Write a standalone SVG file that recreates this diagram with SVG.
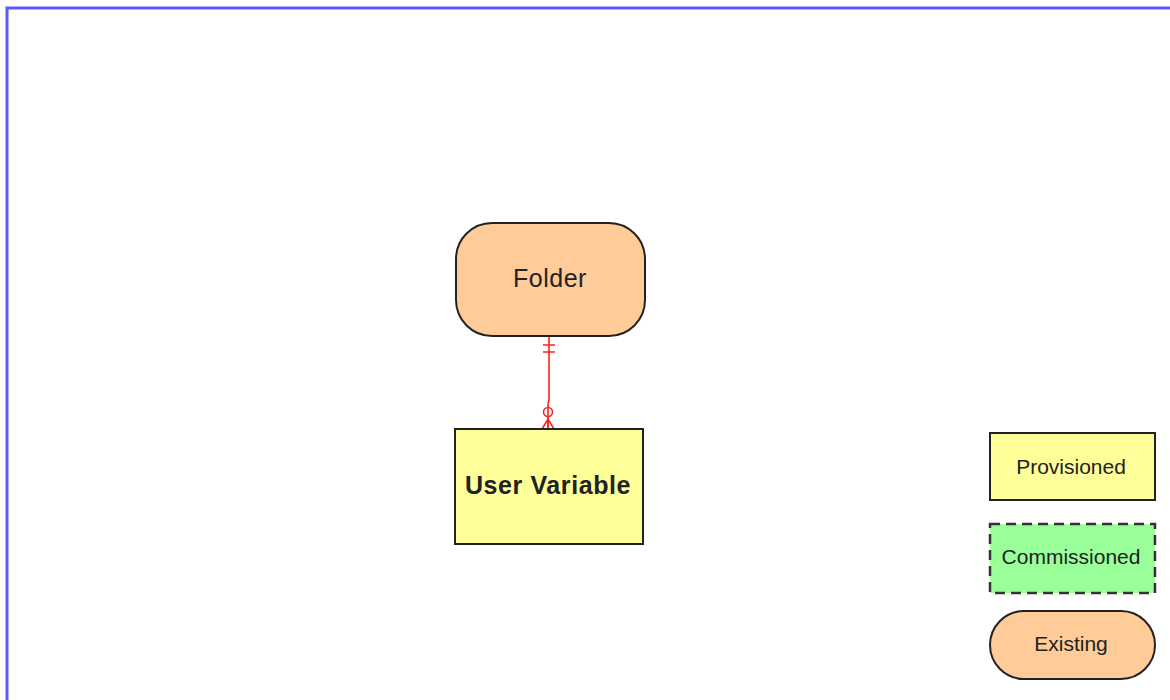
<svg xmlns="http://www.w3.org/2000/svg" width="1170" height="700" viewBox="0 0 1170 700">
<style>
text{font-family:"Liberation Sans",Arial,sans-serif;fill:#222;text-anchor:middle;dominant-baseline:central}
.ent{stroke:#222;stroke-width:2}
.rel{stroke:#ff2222;stroke-width:1.6;fill:none}
</style>
<rect width="1170" height="700" fill="#fff"/>
<path d="M7 700 V8 H1170" fill="none" stroke="#5a5aff" stroke-width="3"/>
<g id="connectors">
<path class="rel" d="M549 336 V400 L548 404 V429"/>
<path class="rel" d="M543 345 H555 M543 352 H555"/>
<circle class="rel" cx="548" cy="412" r="4.5" fill="#fff"/>
<path class="rel" d="M542 429 L548 419 L554 429 M548 419 V429"/>
</g>
<g id="folder">
<rect class="ent" x="456" y="223" width="189" height="113" rx="36" fill="#ffcc99"/>
<text x="550" y="278" font-size="25" letter-spacing="0.5">Folder</text>
</g>
<g id="user-variable">
<rect class="ent" x="455" y="429" width="188" height="115" fill="#ffff99"/>
<text x="548" y="485" font-size="25" font-weight="bold" letter-spacing="0.6">User Variable</text>
</g>
<g id="legend-provisioned">
<rect class="ent" x="990" y="433" width="165" height="67" fill="#ffff99"/>
<text x="1071" y="466" font-size="21">Provisioned</text>
</g>
<g id="legend-commissioned">
<rect x="990" y="524" width="165" height="69" fill="#99ff99" stroke="#333" stroke-width="2.5" stroke-dasharray="10,6"/>
<text x="1071" y="556" font-size="21">Commissioned</text>
</g>
<g id="legend-existing">
<rect class="ent" x="990" y="611" width="165" height="68" rx="34" fill="#ffcc99"/>
<text x="1071" y="643" font-size="21">Existing</text>
</g>
</svg>
